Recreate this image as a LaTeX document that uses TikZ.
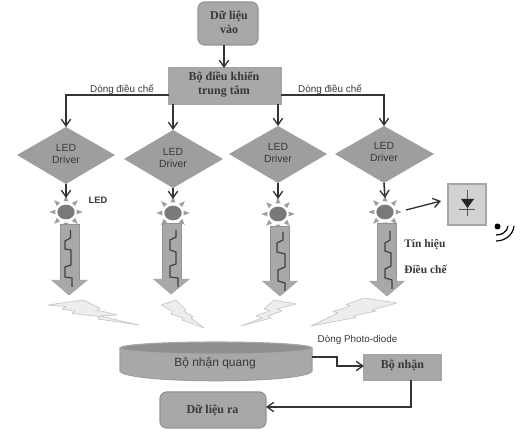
\documentclass[tikz,border=0pt]{standalone}
\usepackage{fontspec}
\setmainfont{Liberation Serif}
\setsansfont{Liberation Sans}
\usetikzlibrary{arrows.meta,shapes.geometric}
\definecolor{boxgray}{gray}{0.66}
\definecolor{dgray}{gray}{0.62}
\definecolor{linegray}{gray}{0.2}
\definecolor{txt}{gray}{0.22}
\tikzset{
  x=0.75pt,y=-0.75pt,
  conn/.style={draw=linegray,line width=1.2pt,-{Straight Barb[length=5pt,width=7pt,line width=1pt]}},
  rbox/.style={draw=gray!85,fill=boxgray,rounded corners=5pt,line width=0.9pt},
  sbox/.style={draw=gray!70,fill=boxgray,line width=0.9pt},
  drv/.style={align=center,font=\sffamily\fontsize{7.8}{9}\selectfont,text=txt},
  lab/.style={font=\sffamily\fontsize{7.4}{9}\selectfont,text=txt,inner sep=0pt},
  serlab/.style={font=\fontsize{8.6}{10}\selectfont\bfseries,text=txt,inner sep=0pt,anchor=west},
  boxtxt/.style={inner sep=0pt,align=center,font=\fontsize{9}{10.5}\selectfont\bfseries,text=txt},
  wave/.style={draw=black!75,line width=0.9pt},
  bolt/.style={fill=black!7,draw=black!22,line width=0.5pt,line join=round},
  ray/.style={fill=gray!75,draw=none},
  sunbody/.style={ellipse,fill=gray!95!black,inner sep=0pt,minimum width=13pt,minimum height=11pt},
}
\newcommand{\sunat}[3]{%
  \node[sunbody] (#3) at (#1,#2) {};
  \foreach \a in {0,45,...,315}{
    \fill[ray,shift={(#1,#2)},rotate=\a] (8pt,-1.8pt) -- (12.5pt,0pt) -- (8pt,1.8pt) -- cycle;
  }%
}
\newcommand{\blockarr}[7]{%
  \fill[boxgray] (#1,#3) -- (#2,#3) -- (#2,#4) -- (#6,#4) -- (#7,#4+15.5) -- (#5,#4) -- (#1,#4) -- cycle;
  \draw[gray!85,line width=0.6pt] (#1,#4) -- (#1,#3) -- (#2,#3) -- (#2,#4);
}
\begin{document}
\begin{tikzpicture}
\useasboundingbox (0,0) rectangle (525,434);
\fill[white] (0,0) rectangle (525,434);
% top boxes
\path[rbox] (198,2) rectangle (258,45);
\node[boxtxt] (in) at (229,22) {Dữ liệu\\vào};
\coordinate (inb) at (224,45);
\path[sbox] (169,68) rectangle (281,104);
\node[boxtxt] (ctl) at (224,84) {Bộ điều khiển\\trung tâm};
\coordinate (ctlt) at (224,68);
\draw[conn] (inb) -- (ctlt);
% diamonds
\fill[dgray] (17,155) -- (66,127) -- (115,155) -- (66,184) -- cycle;
\fill[dgray] (124,159) -- (173,130) -- (223,159) -- (173,188) -- cycle;
\fill[dgray] (229,154) -- (278,126) -- (327,154) -- (278,183) -- cycle;
\fill[dgray] (335,154) -- (384,126) -- (434,154) -- (384,183) -- cycle;
\node[drv] (d1) at (66,154) {LED\\Driver};
\node[drv] (d2) at (173,158) {LED\\Driver};
\node[drv] (d3) at (278,153) {LED\\Driver};
\node[drv] (d4) at (384,152) {LED\\Driver};
\coordinate (d1t) at (66,127); \coordinate (d2t) at (173,130);
\coordinate (d3t) at (278,126); \coordinate (d4t) at (384,126);
\coordinate (d1b) at (66,184); \coordinate (d2b) at (173,188);
\coordinate (d3b) at (278,183); \coordinate (d4b) at (384,183);
% connectors from controller
\coordinate (cl) at (169,95); \coordinate (cr) at (281,95);
\coordinate (c2) at (173,104); \coordinate (c3) at (278,104);
\draw[conn] (cl) -- (66,95) -- (d1t);
\draw[conn] (c2) -- (d2t);
\draw[conn] (c3) -- (d3t);
\draw[conn] (cr) -- (384,95) -- (d4t);
\node[lab] (l1) at (122,89.5) {Dòng điều chế};
\node[lab] (l2) at (330,89.5) {Dòng điều chế};
% suns
\sunat{66}{212}{s1}
\sunat{173}{213}{s2}
\sunat{278}{214}{s3}
\sunat{385}{212}{s4}
\coordinate (s1t) at (66,198); \coordinate (s2t) at (173,199);
\coordinate (s3t) at (278,199); \coordinate (s4t) at (385,198);
\draw[conn] (d1b) -- (s1t);
\draw[conn] (d2b) -- (s2t);
\draw[conn] (d3b) -- (s3t);
\node[inner sep=0pt,text=txt,font=\sffamily\fontsize{7}{8}\selectfont\bfseries] (led) at (98,200) {LED};
\draw[conn] (d4b) -- (s4t);
% block arrows
\blockarr{60}{79}{224}{280}{51}{88}{69}
\blockarr{162}{181}{223}{279}{153}{190}{171}
\blockarr{270}{289}{226}{281}{262}{298}{280}
\blockarr{377}{396}{223}{281}{369}{405}{387}
% waves
\draw[wave] (70.5,230) -- (70.5,238) -- (65,241) -- (65,249) -- (71,250) -- (71,265) -- (65,267) -- (65,277) -- (72,278) -- (72,287);
\draw[wave] (176,230) -- (176,237) -- (170,240) -- (170,250) -- (176,252) -- (176,264) -- (170,266) -- (170,277) -- (178,278) -- (178,287);
\draw[wave] (283,232) -- (283,240) -- (277,243) -- (277,252) -- (285,254) -- (285,267) -- (278,270) -- (278,281) -- (285,283) -- (285,291);
\draw[wave] (390,231) -- (390,240) -- (385,243) -- (385,251) -- (391,253) -- (391,266) -- (385,269) -- (385,278) -- (392,280) -- (392,289);
% bolts
\draw[bolt] (48,305) -- (83,300) -- (100,308) -- (97,310) -- (117,315) -- (100,316) -- (139,325) -- (98,319) -- (100,316.5) -- (72,313.5) -- (75,311) -- (62,309) -- (66,306.5) -- cycle;
\draw[bolt] (161,305) -- (176,300) -- (186,310) -- (184,311.5) -- (193,316.5) -- (191,318) -- (204,328) -- (182,320) -- (183,318) -- (171,314) -- (173,311.5) -- cycle;
\draw[bolt] (296,304) -- (274,300) -- (264,309) -- (270,310.5) -- (256,316) -- (262,318) -- (241,326) -- (271,318) -- (268,316) -- (282,311) -- (277,309) -- cycle;
\draw[bolt] (311,326) -- (338,313) -- (333,311.5) -- (350,306) -- (346,304.5) -- (364,298) -- (397,303) -- (372,310) -- (376,311) -- (353,316) -- (356,317.5) -- cycle;
% right side
\node[serlab] (t1) at (404,245) {Tín hiệu};
\node[serlab] (t2) at (404,269) {Điều chế};
\path[fill=gray!35,draw=gray!70,line width=0.8pt] (448,184) rectangle (486,225);
\coordinate (pd) at (441,201);
\coordinate (s4r) at (406,210);
\draw[draw=black!80,line width=1pt,-{Straight Barb[length=5pt,width=7pt,line width=1pt]}] (s4r) -- (pd);
\draw[gray!70!black,line width=0.6pt] (467,190) -- (467,216) (459,209) -- (475,209);
\fill[black!85] (461,199) -- (474,199) -- (467.5,208) -- cycle;
\fill[black] (497.5,226.5) circle [radius=3];
\draw[black,line width=0.9pt] (496,241) .. controls (505,241) and (513,235) .. (514,226);
\draw[black,line width=0.9pt] (496,235) .. controls (502,235) and (507,232) .. (508,226);
% bottom
\path[fill=boxgray,draw=gray!75,line width=0.8pt] (120,348) -- (120,371) .. controls (125,384) and (307,384) .. (312,371) -- (312,348);
\path[fill=boxgray!85!black,draw=gray!70,line width=0.8pt] (216,348) ellipse [x radius=96,y radius=6];
\node[font=\sffamily\fontsize{9}{10}\selectfont,text=txt,inner sep=0pt] (rx) at (215,363.5) {Bộ nhận quang};
\coordinate (rxr) at (312,357);
\path[sbox] (364,355) rectangle (441,380);
\node[boxtxt] (br) at (402.5,365) {Bộ nhận};
\coordinate (brl) at (364,366);
\coordinate (brb) at (411,380);
\draw[conn] (rxr) -- (337,357) -- (337,366) -- (brl);
\node[lab] (lpd) at (357.5,340) {Dòng Photo-diode};
\path[rbox] (160,392) rectangle (266,428);
\node[boxtxt] (out) at (212.5,410) {Dữ liệu ra};
\coordinate (outr) at (266,407);
\draw[conn] (brb) -- (411,407) -- (outr);
\end{tikzpicture}
\end{document}
